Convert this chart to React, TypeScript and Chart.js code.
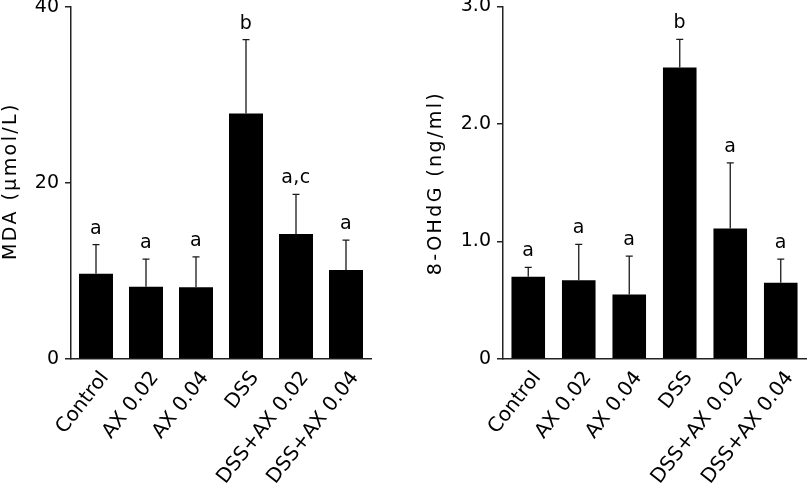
import React, { useEffect, useRef } from "react";
import { Chart, registerables } from "chart.js";

Chart.register(...registerables);

const categories = ["Control", "AX 0.02", "AX 0.04", "DSS", "DSS+AX 0.02", "DSS+AX 0.04"];

const mdaMean = [9.7, 8.2, 8.15, 27.9, 14.2, 10.1];
const mdaSD = [3.3, 3.15, 3.45, 8.4, 4.5, 3.4];
const mdaLetters = ["a", "a", "a", "b", "a,c", "a"];
const mdaTicks = [0, 20, 40];

const ohdgMean = [0.7, 0.67, 0.55, 2.48, 1.11, 0.65];
const ohdgSD = [0.08, 0.305, 0.325, 0.24, 0.56, 0.2];
const ohdgLetters = ["a", "a", "a", "b", "a", "a"];
const ohdgTicks = [0, 1, 2, 3];

const FONT = "DejaVu Sans";

const errorPlugin = {
  id: "errorLetters",
  afterDatasetsDraw(chart: any) {
    const opts = chart.options.plugins.errorLetters;
    const { sd, letters, title, titleX, titleY } = opts;
    const xs = chart.scales.x;
    const ys = chart.scales.y;
    const data = chart.data.datasets[0].data as number[];
    const ctx = chart.ctx;
    ctx.save();
    ctx.strokeStyle = "#1a1a1a";
    ctx.lineWidth = 1.3;
    ctx.fillStyle = "#000";
    ctx.font = `19px "${FONT}"`;
    (ctx as any).letterSpacing = "0.5px";
    ctx.textAlign = "center";
    ctx.textBaseline = "alphabetic";
    data.forEach((v, i) => {
      const x = xs.getPixelForValue(i);
      const y0 = ys.getPixelForValue(v);
      const y1 = ys.getPixelForValue(v + sd[i]);
      ctx.beginPath();
      ctx.moveTo(x, y0);
      ctx.lineTo(x, y1);
      ctx.moveTo(x - 3.5, y1);
      ctx.lineTo(x + 3.5, y1);
      ctx.stroke();
      ctx.fillText(letters[i], x, y1 - 11);
    });
    ctx.restore();

    // y-axis title
    ctx.save();
    ctx.translate(titleX, titleY);
    ctx.rotate(-Math.PI / 2);
    ctx.font = `19px "${FONT}"`;
    (ctx as any).letterSpacing = "2.4px";
    ctx.textAlign = "center";
    ctx.textBaseline = "alphabetic";
    ctx.fillStyle = "#000";
    ctx.fillText(title, 0, 0);
    ctx.restore();
  },
};

function makeConfig(
  values: number[],
  sd: number[],
  letters: string[],
  ticks: number[],
  title: string,
  titleX: number,
  titleY: number,
  yWidth: number,
  padRight: number,
  padTop: number,
  barPct: number,
  fmt: (v: number) => string
): any {
  return {
    type: "bar",
    data: {
      labels: categories,
      datasets: [
        {
          data: values,
          backgroundColor: "#000",
          borderWidth: 0,
          categoryPercentage: 1,
          barPercentage: barPct,
        },
      ],
    },
    options: {
      animation: false,
      responsive: false,
      devicePixelRatio: 1,
      layout: { padding: { top: padTop, right: padRight, left: 0, bottom: 0 } },
      plugins: {
        legend: { display: false },
        tooltip: { enabled: false },
        errorLetters: { sd, letters, title, titleX, titleY },
      },
      scales: {
        x: {
          grid: { display: false },
          border: { display: true, color: "#222", width: 1.5 },
          ticks: {
            color: "#000",
            font: { family: FONT, size: 20 },
            maxRotation: 52,
            minRotation: 52,
            padding: 0,
            labelOffset: 9,
          },
          afterFit(scale: any) {
            scale.height = 136;
            scale.paddingLeft = 0;
            scale.paddingRight = 0;
          },
        },
        y: {
          min: ticks[0],
          max: ticks[ticks.length - 1],
          afterBuildTicks(scale: any) {
            scale.ticks = ticks.map((v) => ({ value: v }));
          },
          grid: {
            display: true,
            drawOnChartArea: false,
            drawTicks: true,
            tickLength: 6,
            color: "#222",
            lineWidth: 1.5,
          },
          border: { display: true, color: "#222", width: 1.5 },
          ticks: {
            color: "#000",
            font: { family: FONT, size: 19 },
            padding: 6,
            callback: (v: any) => fmt(Number(v)),
          },
          title: { display: false },
          afterFit(scale: any) {
            scale.width = yWidth;
            scale.paddingTop = 0;
            scale.paddingBottom = 0;
          },
        },
      },
    },
    plugins: [errorPlugin],
  };
}

function Panel(props: { left: number; width: number; config: any }) {
  const ref = useRef<HTMLCanvasElement>(null);
  useEffect(() => {
    const chart = new Chart(ref.current as HTMLCanvasElement, props.config);
    return () => chart.destroy();
  }, []);
  return (
    <canvas
      ref={ref}
      width={props.width}
      height={495}
      style={{ position: "absolute", left: props.left, top: 0, width: props.width, height: 495 }}
    />
  );
}

export default function App() {
  const left = makeConfig(
    mdaMean,
    mdaSD,
    mdaLetters,
    mdaTicks,
    "MDA (µmol/L)",
    15.5,
    181,
    71,
    29,
    7,
    0.68,
    (v) => String(v)
  );
  const right = makeConfig(
    ohdgMean,
    ohdgSD,
    ohdgLetters,
    ohdgTicks,
    "8-OHdG (ng/ml)",
    41,
    183,
    103,
    1,
    6.5,
    0.665,
    (v) => (v === 0 ? "0" : v.toFixed(1))
  );
  return (
    <div style={{ position: "fixed", left: 0, top: 0, width: 807, height: 495, background: "#fff" }}>
      <Panel left={0} width={400} config={left} />
      <Panel left={400} width={407} config={right} />
    </div>
  );
}
